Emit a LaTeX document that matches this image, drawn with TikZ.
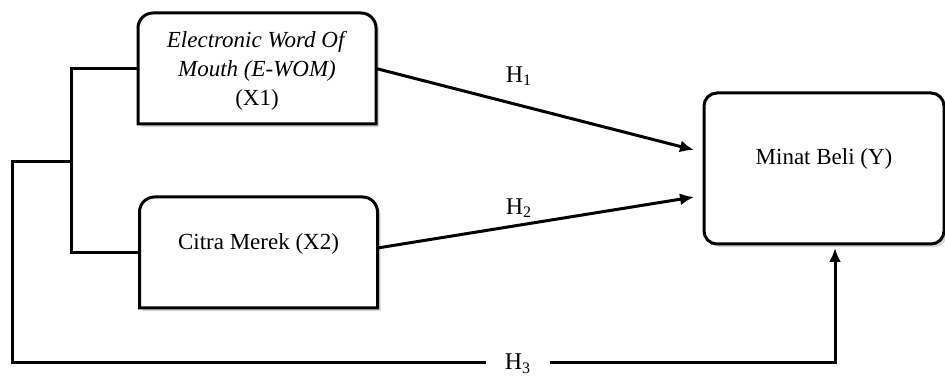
\documentclass[tikz,border=0pt]{standalone}
\usepackage{fontspec}
\setmainfont{Liberation Serif}
\usetikzlibrary{arrows.meta,shadows}

\tikzset{
  boxline/.style={line width=1.5pt, fill=white,
    drop shadow={shadow xshift=1.6pt, shadow yshift=-1.6pt, fill=black!35, opacity=.45}},
  boxshape/.style={inner sep=0pt, outer sep=0pt, minimum width=119pt, minimum height=55.5pt},
  boxtext/.style={font=\fontsize{11.5}{14.5}\selectfont, align=center},
  link/.style={line width=1.5pt},
  arrow/.style={link, -{Latex[length=7pt,width=6pt]}},
  hlabel/.style={font=\fontsize{12}{13}\selectfont, inner sep=1pt},
}
\newcommand{\toprounded}[1]{%
  \draw[boxline] (#1.south west) [rounded corners=7.5pt] -- (#1.north west) -- (#1.north east) [sharp corners] -- (#1.south east) -- cycle;}

\begin{document}
\begin{tikzpicture}[x=0.5pt,y=0.5pt]
  \useasboundingbox (0,0) rectangle (945,378);

  % variable boxes
  \node[boxshape] (x1) at (257,309.5) {};
  \node[boxshape] (x2) at (258.5,125.5) {};
  \toprounded{x1}
  \toprounded{x2}
  \node[boxtext] (x1t) at ([yshift=-1.2pt]x1.center) {\textit{Electronic Word Of}\\ \textit{Mouth (E-WOM)}\\ (X1)};
  \node[boxtext] (x2t) at ([yshift=4.5pt]x2.center) {Citra Merek (X2)};

  \node[boxshape, boxline, draw, rounded corners=6.5pt, minimum width=120pt, minimum height=75.5pt] (y) at (824,209.5) {};
  \node[boxtext] (yt) at ([yshift=5pt]y.center) {Minat Beli (Y)};

  % hypothesis labels
  \node[hlabel] (h1) at (519,302) {H\textsubscript{1}};
  \node[hlabel] (h2) at (519,170) {H\textsubscript{2}};
  \node[hlabel, inner xsep=9pt] (h3) at (518,14) {H\textsubscript{3}};

  % connectors
  \coordinate (jn) at (71,216);
  \coordinate (bl) at (12,15);
  \draw[link] (x1.west) -- ++(-67,0) |- (x2.west);
  \draw[link] (jn) -| (bl) -- (bl -| h3.west);
  \draw[arrow, shorten >=2pt] (bl -| h3.east) -| ([xshift=5.5pt]y.south);
  \draw[arrow] (x1.east) -- ([shift={(-10,18.5)}]y.west);
  \draw[arrow] ([yshift=2.25pt]x2.east) -- ([shift={(-10,-28.5)}]y.west);
\end{tikzpicture}
\end{document}
